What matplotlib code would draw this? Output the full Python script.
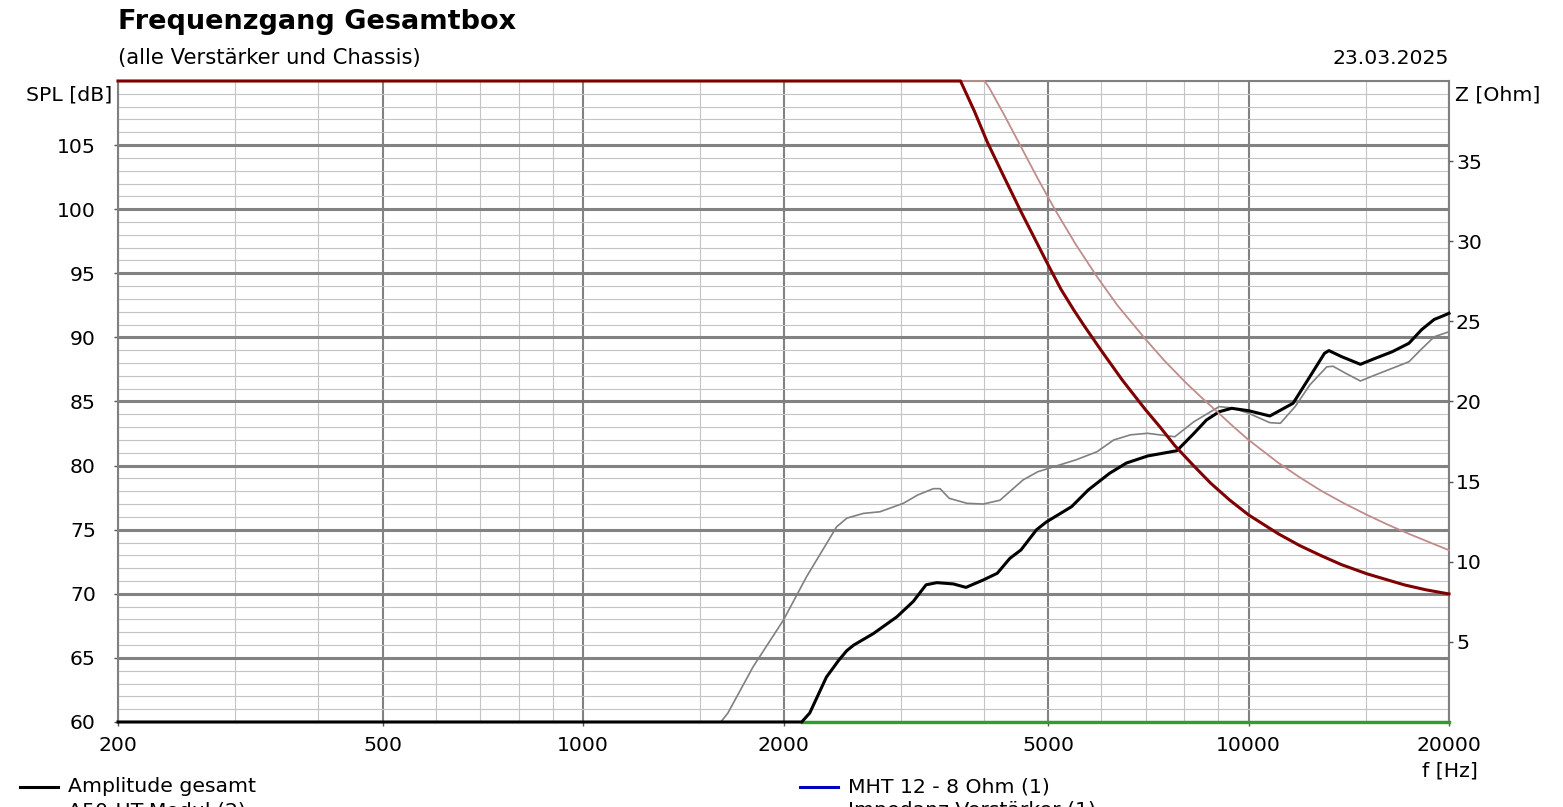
import matplotlib
matplotlib.use("Agg")
from matplotlib import pyplot as plt
from matplotlib.lines import Line2D
from matplotlib.ticker import NullFormatter

plt.rcParams['font.family'] = ['DejaVu Sans']

# Amplitude gesamt (SPL, dB)
f_total = [200, 2130, 2190, 2320, 2420, 2489, 2550, 2730, 2960, 3133, 3275, 3400,
           3600, 3760, 3993, 4190, 4378, 4548, 4801, 4965, 5420, 5741, 6180, 6550,
           7050, 7800, 8270, 8642, 9030, 9430, 10000, 10760, 11660, 12270, 13000,
           13200, 13790, 14720, 15500, 16430, 17410, 18190, 19000, 19570, 20000]
spl_total = [60, 60, 60.7, 63.5, 64.8, 65.56, 66.0, 66.9, 68.2, 69.4, 70.7, 70.87,
             70.77, 70.5, 71.08, 71.6, 72.77, 73.42, 75.0, 75.6, 76.8, 78.1, 79.4, 80.2,
             80.75, 81.16, 82.5, 83.56, 84.2, 84.47, 84.28, 83.87, 84.86, 86.68, 88.76,
             88.97, 88.5, 87.9, 88.37, 88.88, 89.54, 90.6, 91.4, 91.67, 91.88]

# A50-HT (2) (SPL, dB)
f_ht = [200, 1610, 1650, 1800, 2000, 2166, 2404, 2490, 2636, 2793, 3028, 3180,
        3359, 3438, 3548, 3770, 3993, 4230, 4581, 4820, 5496, 5916, 6270, 6645,
        7046, 7744, 8272, 9029, 9434, 10000, 10757, 11158, 11743, 12360, 13100,
        13390, 13990, 14720, 15495, 17410, 18190, 19006, 20000]
spl_ht = [60, 60, 60.7, 64.3, 67.96, 71.33, 75.23, 75.9, 76.27, 76.4, 77.06, 77.7,
          78.2, 78.2, 77.45, 77.06, 77.0, 77.3, 78.88, 79.52, 80.44, 81.08, 82.0, 82.4,
          82.52, 82.25, 83.42, 84.6, 84.5, 84.08, 83.35, 83.3, 84.6, 86.3, 87.7,
          87.75, 87.2, 86.6, 87.07, 88.1, 89.1, 90.05, 90.44]

# MHT 12 (1) - am unteren Rand
f_mht = [2130, 20000]
spl_mht = [60, 60]

# Impedanz (Ohm)
f_z1 = [200, 3690, 3873, 4047, 4291, 4548, 4752, 5000, 5224, 5458, 5661, 6000,
        6455, 6994, 7362, 7744, 8272, 8770, 9364, 10000, 11075, 11918, 12817,
        13786, 15050, 17160, 18460, 20000]
z1 = [40, 40, 38.1, 36.2, 34.0, 31.85, 30.3, 28.5, 27.0, 25.72, 24.72, 23.2,
      21.35, 19.5, 18.4, 17.25, 15.98, 14.9, 13.85, 12.92, 11.75, 11.02, 10.4,
      9.82, 9.25, 8.55, 8.25, 7.99]
f_z2 = [200, 4010, 4076, 4290, 4548, 4822, 5112, 5498, 5914, 6350, 6994, 7470,
        8035, 8519, 9029, 9503, 10000, 11075, 11918, 12817, 13888, 15050, 16190,
        17410, 18730, 20000]
z2 = [40, 40, 39.57, 37.9, 35.9, 33.9, 32.0, 29.8, 27.8, 26.0, 23.9, 22.55,
      21.2, 20.2, 19.25, 18.4, 17.6, 16.18, 15.28, 14.46, 13.66, 12.93, 12.31,
      11.74, 11.2, 10.72]

x_major = [200, 500, 1000, 2000, 5000, 10000, 20000]
x_minor = [300, 400, 600, 700, 800, 900, 1500, 3000, 4000, 6000, 7000, 8000, 9000, 15000]
spl_ticks = list(range(60, 110, 5))
z_ticks = list(range(5, 40, 5))

fig = plt.figure(figsize=(15.63, 8.07), dpi=100)
ax = fig.add_axes([118/1563, 1-722/807, (1449-118)/1563, (722-81)/807])
ax.set_xscale('log')
ax.set_xlim(200, 20000)
ax.set_ylim(60, 110)
ax.set_xticks(x_major)
ax.set_xticklabels([str(v) for v in x_major])
ax.set_xticks(x_minor, minor=True)
ax.xaxis.set_minor_formatter(NullFormatter())
ax.set_yticks(spl_ticks)
ax.set_yticks(range(60, 111), minor=True)
ax.set_axisbelow(True)

ax.yaxis.grid(True, which='minor', color='#c4c4c4', lw=0.8)
ax.xaxis.grid(True, which='minor', color='#c4c4c4', lw=0.8)
ax.yaxis.grid(True, which='major', color='#828282', lw=2.2)
ax.xaxis.grid(True, which='major', color='#828282', lw=1.5)

ax.tick_params(which='minor', length=0)
ax.tick_params(axis='y', which='major', length=3, width=1, color='#555555',
               labelsize=14.7, pad=13)
ax.tick_params(axis='x', which='major', length=3, width=1, color='#555555',
               labelsize=14.7, pad=7)
for s in ax.spines.values():
    s.set_color('#808080')
    s.set_linewidth(1.5)

ax.plot(f_mht, spl_mht, color='#2ca02c', lw=2.4, clip_on=False, zorder=4)
ax.plot(f_ht, spl_ht, color='#808080', lw=1.2, zorder=4)
ax.plot(f_total, spl_total, color='black', lw=2.2, clip_on=False, zorder=5)

ax2 = ax.twinx()
ax2.set_ylim(0, 40)
ax2.set_yticks(z_ticks)
ax2.tick_params(axis='y', length=3, width=1, color='#555555', labelsize=14.7, pad=2)
for s in ax2.spines.values():
    s.set_visible(False)
ax2.plot(f_z2, z2, color='#c08c8c', lw=1.3, clip_on=False, zorder=4)
ax2.plot(f_z1, z1, color='#800000', lw=2.2, clip_on=False, zorder=5)

# Texte
fig.text(118/1563, 1-22/807, 'Frequenzgang Gesamtbox', fontsize=19.5,
         fontweight='bold', va='center', ha='left')
fig.text(118/1563, 1-58/807, '(alle Verstärker und Chassis)', fontsize=15.2,
         va='center', ha='left')
fig.text(1449/1563, 1-58/807, '23.03.2025', fontsize=14.7, va='center', ha='right')
fig.text(112/1563, 1-95/807, 'SPL [dB]', fontsize=14.7, va='center', ha='right')
fig.text(1455/1563, 1-95/807, 'Z [Ohm]', fontsize=14.7, va='center', ha='left')
fig.text(1450/1563, 1-771/807, 'f [Hz]', fontsize=14.7, va='center', ha='center')

# Legende (zweite Zeile am unteren Rand abgeschnitten wie im Original)
leg = [('Amplitude gesamt', 'black', 20, 787),
       ('MHT 12 - 8 Ohm (1)', '#0000c0', 800, 787),
       ('A50-HT-Modul (2)', '#808080', 20, 811),
       ('Impedanz Verstärker (1)', '#800000', 800, 811)]
for label, col, x0, y0 in leg:
    fig.add_artist(Line2D([x0/1563, (x0+38)/1563], [1-y0/807, 1-y0/807],
                          color=col, lw=2.2, transform=fig.transFigure))
    fig.text((x0+48)/1563, 1-y0/807, label, fontsize=14.7, va='center', ha='left')

fig.savefig('out.png', dpi=100)
